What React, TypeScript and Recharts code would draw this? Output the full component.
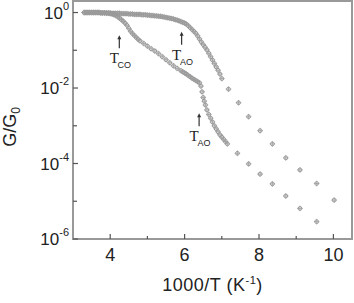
import React from "react";
import { ScatterChart, Scatter, XAxis, YAxis, ReferenceArea, ReferenceDot } from "recharts";

// Upper curve (T_AO only): 1000/T and log10(G/G0)
const upperX = [3.3, 3.35, 3.4, 3.45, 3.5, 3.55, 3.6, 3.65, 3.7, 3.75, 3.8, 3.85, 3.9, 3.95, 4.0, 4.05, 4.1, 4.15, 4.2, 4.25, 4.3, 4.35, 4.4, 4.45, 4.5, 4.55, 4.6, 4.65, 4.7, 4.75, 4.8, 4.85, 4.9, 4.95, 5.0, 5.05, 5.1, 5.15, 5.2, 5.25, 5.3, 5.35, 5.4, 5.45, 5.5, 5.55, 5.6, 5.65, 5.7, 5.75, 5.8, 5.85, 5.9, 5.95, 6.0, 6.05, 6.1, 6.15, 6.2, 6.25, 6.3, 6.35, 6.4, 6.45, 6.5, 6.55, 6.6, 6.65, 6.7, 6.75, 6.8, 6.85, 6.9, 6.95, 7.0, 7.18, 7.45, 7.72, 8.03, 8.36, 8.72, 9.1, 9.55, 10.02];
const upperLogG = [0, 0, 0, 0, 0, 0, 0, 0, 0, -0.01, -0.01, -0.01, -0.01, -0.01, -0.01, -0.02, -0.02, -0.02, -0.02, -0.02, -0.03, -0.03, -0.03, -0.03, -0.04, -0.04, -0.04, -0.05, -0.05, -0.05, -0.05, -0.06, -0.06, -0.06, -0.07, -0.07, -0.08, -0.08, -0.09, -0.09, -0.1, -0.1, -0.11, -0.12, -0.13, -0.14, -0.15, -0.16, -0.17, -0.19, -0.2, -0.22, -0.24, -0.26, -0.28, -0.31, -0.35, -0.4, -0.45, -0.5, -0.55, -0.62, -0.7, -0.78, -0.85, -0.92, -0.99, -1.08, -1.17, -1.26, -1.35, -1.44, -1.53, -1.63, -1.75, -2.03, -2.39, -2.76, -3.13, -3.48, -3.85, -4.17, -4.53, -4.97];

// Lower curve (T_CO then T_AO)
const lowerX = [3.3, 3.35, 3.4, 3.45, 3.5, 3.55, 3.6, 3.65, 3.7, 3.75, 3.8, 3.85, 3.9, 3.95, 4.0, 4.05, 4.1, 4.15, 4.2, 4.25, 4.3, 4.35, 4.4, 4.45, 4.5, 4.55, 4.6, 4.65, 4.7, 4.75, 4.8, 4.9, 5.0, 5.1, 5.2, 5.3, 5.4, 5.5, 5.6, 5.7, 5.8, 5.9, 5.95, 6.0, 6.05, 6.1, 6.15, 6.2, 6.25, 6.3, 6.35, 6.4, 6.44, 6.47, 6.5, 6.53, 6.56, 6.6, 6.65, 6.7, 6.75, 6.8, 6.85, 6.9, 6.95, 7.0, 7.05, 7.1, 7.15, 7.42, 7.72, 8.03, 8.36, 8.72, 9.1, 9.55];
const lowerLogG = [0, 0, 0, 0, 0, 0, 0, 0, 0, -0.01, -0.01, -0.01, -0.02, -0.02, -0.03, -0.04, -0.06, -0.08, -0.11, -0.15, -0.19, -0.23, -0.28, -0.34, -0.42, -0.5, -0.56, -0.61, -0.66, -0.71, -0.75, -0.82, -0.89, -0.96, -1.02, -1.09, -1.17, -1.25, -1.33, -1.41, -1.48, -1.54, -1.57, -1.6, -1.63, -1.67, -1.7, -1.74, -1.77, -1.8, -1.83, -1.86, -1.95, -2.1, -2.25, -2.35, -2.45, -2.58, -2.7, -2.8, -2.9, -3.0, -3.08, -3.16, -3.24, -3.3, -3.36, -3.42, -3.48, -3.73, -4.01, -4.28, -4.54, -4.86, -5.19, -5.54];

const xTicks = [4, 5, 6, 7, 8, 9, 10];
const yTicks = [1e-6, 1e-5, 1e-4, 1e-3, 1e-2, 1e-1, 1];

// Annotations: arrow tip positions (1000/T, log10 G/G0) and labels
const annotX = [4.245, 5.92, 6.39];
const annotLogY = [-0.6, -0.51, -2.67];
const annotSub = ["CO", "AO", "AO"];

const upperData = upperX.map((x, i) => ({ x, g: Math.pow(10, upperLogG[i]) }));
const lowerData = lowerX.map((x, i) => ({ x, g: Math.pow(10, lowerLogG[i]) }));

const MARK = "#9a9a9a";
const TEXT = "#222";

const Marker = (props: any) => {
  const { cx, cy } = props;
  if (cx == null || cy == null) return null;
  return (
    <g>
      <circle cx={cx} cy={cy} r={1.9} fill="none" stroke={MARK} strokeWidth={1} />
      <line x1={cx - 2.8} x2={cx + 2.8} y1={cy} y2={cy} stroke={MARK} strokeWidth={0.8} />
      <line x1={cx} x2={cx} y1={cy - 2.8} y2={cy + 2.8} stroke={MARK} strokeWidth={0.8} />
    </g>
  );
};

const XTick = (props: any) => {
  const { x, y, payload } = props;
  const v = payload.value;
  const major = v % 2 === 0;
  return (
    <g>
      <line x1={x} x2={x} y1={y} y2={y - (major ? 5 : 3)} stroke="#555" strokeWidth={1.2} />
      {major && (
        <text x={x} y={y + 22} textAnchor="middle" fontSize={18} fill={TEXT}>
          {v}
        </text>
      )}
    </g>
  );
};

const YTick = (props: any) => {
  const { x, y, payload } = props;
  const e = Math.round(Math.log10(payload.value));
  const major = e % 2 === 0;
  return (
    <g>
      <line x1={x} x2={x + (major ? 5 : 4)} y1={y} y2={y} stroke="#555" strokeWidth={1.2} />
      {major && (
        <text x={x - 4} y={y + 6} textAnchor="end" fontSize={17} fill={TEXT}>
          10
          <tspan dy={-9} fontSize={11}>
            {e === 0 ? "0" : String(e)}
          </tspan>
        </text>
      )}
    </g>
  );
};

const Annot = (sub: string) => (props: any) => {
  const { cx, cy } = props;
  if (cx == null || cy == null) return null;
  return (
    <g>
      <line x1={cx} x2={cx} y1={cy + 3} y2={cy + 13} stroke="#333" strokeWidth={1.2} />
      <path d={`M${cx - 2},${cy + 4} L${cx},${cy} L${cx + 2},${cy + 4} Z`} fill="#333" />
      <text x={cx - 5} y={cy + 28} textAnchor="middle" fontSize={15} fontFamily="Liberation Serif, serif" fill={TEXT}>
        T
      </text>
      <text x={cx + 5} y={cy + 33} textAnchor="middle" fontSize={9} fill={TEXT}>
        {sub}
      </text>
    </g>
  );
};

const XLabel = (props: any) => {
  const vb = props.viewBox || { x: 73, y: 239, width: 279 };
  const cx = vb.x + vb.width / 2;
  return (
    <text x={cx} y={vb.y + 52} textAnchor="middle" fontSize={18} fill={TEXT} letterSpacing={0.5}>
      1000/T (K
      <tspan dy={-7} fontSize={11}>-1</tspan>
      <tspan dy={7}>)</tspan>
    </text>
  );
};

const YLabel = () => (
  <text x={16} y={127} transform="rotate(-90, 16, 127)" textAnchor="middle" fontSize={18} fill={TEXT}>
    G/G
    <tspan dy={4} fontSize={12}>0</tspan>
  </text>
);

export default function App() {
  return (
    <div
      style={{
        position: "absolute",
        left: 0,
        top: 0,
        width: 354,
        height: 303,
        background: "#fff",
        fontFamily: "'Liberation Sans', Arial, sans-serif",
      }}
    >
      <ScatterChart width={354} height={303} margin={{ top: 1, right: 2, bottom: 0, left: 0 }}>
        <XAxis
          dataKey="x"
          type="number"
          domain={[3, 10.5]}
          ticks={xTicks}
          interval={0}
          allowDataOverflow
          height={64}
          axisLine={false}
          tickLine={false}
          tickSize={0}
          tickMargin={0}
          tick={<XTick />}
          label={{ content: <XLabel /> }}
        />
        <YAxis
          dataKey="g"
          type="number"
          scale="log"
          domain={[1e-6, 2.02]}
          ticks={yTicks}
          interval={0}
          allowDataOverflow
          width={73}
          axisLine={false}
          tickLine={false}
          tickSize={0}
          tickMargin={0}
          tick={<YTick />}
          label={{ content: <YLabel /> }}
        />
        <ReferenceArea x1={3} x2={10.5} y1={1e-6} y2={2.02} fill="none" stroke="#999" strokeWidth={2} ifOverflow="visible" />
        <Scatter data={upperData} shape={<Marker />} isAnimationActive={false} />
        <Scatter data={lowerData} shape={<Marker />} isAnimationActive={false} />
        {annotX.map((ax, i) => (
          <ReferenceDot
            key={i}
            x={ax}
            y={Math.pow(10, annotLogY[i])}
            r={0}
            ifOverflow="visible"
            shape={Annot(annotSub[i])}
          />
        ))}
      </ScatterChart>
    </div>
  );
}
